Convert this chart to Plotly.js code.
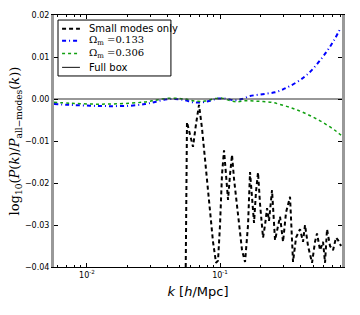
<!DOCTYPE html>
<html>
<head>
<meta charset="utf-8">
<script src="https://cdn.plot.ly/plotly-3.0.1.min.js"></script>
<style>html,body{margin:0;padding:0;background:#fff;}#chart{width:360px;height:315px;}</style>
</head>
<body>
<div id="chart"></div>
<script>
// Small modes only (black dashed)
var kSmall = [0.05455,0.05646,0.05950,0.06266,0.06600,0.06953,0.07323,0.07847,0.08409,0.08859,0.09331,0.09661,0.1000,0.1035,0.1072,0.1109,0.1149,0.1189,0.1231,0.1274,0.1319,0.1390,0.1464,0.1542,0.1624,0.1681,0.1740,0.1802,0.1865,0.1931,0.1999,0.2106,0.2180,0.2257,0.2336,0.2460,0.2592,0.2730,0.2826,0.2977,0.3135,0.3360,0.3539,0.3728,0.3995,0.4208,0.4356,0.4588,0.4917,0.5179,0.5362,0.5647,0.5949,0.6158,0.6375,0.6714,0.7072,0.7449,0.7712,0.8124];
var vSmall = [-0.060,-0.0055,-0.0085,-0.0114,-0.0060,-0.0014,-0.0070,-0.0170,-0.0280,-0.0340,-0.0390,-0.0385,-0.0300,-0.0180,-0.0122,-0.0190,-0.0240,-0.0180,-0.0133,-0.0190,-0.0230,-0.0300,-0.0360,-0.0388,-0.0300,-0.0174,-0.0240,-0.0295,-0.0220,-0.0175,-0.0250,-0.0330,-0.0300,-0.0260,-0.0290,-0.0217,-0.0336,-0.0300,-0.0280,-0.0340,-0.0270,-0.0233,-0.0388,-0.0330,-0.0310,-0.0340,-0.0300,-0.0350,-0.0390,-0.0340,-0.0320,-0.0360,-0.0340,-0.0390,-0.0310,-0.0350,-0.0360,-0.0330,-0.0336,-0.0350];

// Omega_m = 0.133 (blue dash-dot)
var kLow = [0.00565,0.00745,0.0105,0.0149,0.0211,0.0273,0.0325,0.0386,0.0459,0.0546,0.0627,0.0732,0.0841,0.0966,0.1090,0.1296,0.1464,0.1681,0.1931,0.2257,0.2592,0.2977,0.3360,0.3995,0.4510,0.5003,0.5647,0.6375,0.7196,0.8124];
var vLow = [-0.0012,-0.0014,-0.0016,-0.0017,-0.0016,-0.0012,-0.0007,-0.0001,0.0000,-0.0003,-0.0008,-0.0008,-0.0004,0.0001,0.0001,-0.0003,0.0000,0.0007,0.0010,0.0013,0.0016,0.0023,0.0031,0.0045,0.0058,0.0072,0.0092,0.0114,0.0140,0.0171];

// Omega_m = 0.306 (green dotted)
var kHigh = [0.00565,0.00745,0.0105,0.0149,0.0211,0.0273,0.0325,0.0386,0.0459,0.0546,0.0649,0.0771,0.0917,0.1035,0.1189,0.1342,0.1542,0.1833,0.2106,0.2460,0.2826,0.3360,0.3793,0.4356,0.5003,0.5647,0.6375,0.7196,0.8124];
var vHigh = [-0.0008,-0.0010,-0.0012,-0.0012,-0.0010,-0.0007,-0.0003,0.0001,0.0002,0.0000,-0.0005,-0.0005,0.0001,0.0002,-0.0004,-0.0007,-0.0004,-0.0005,-0.0006,-0.0008,-0.0013,-0.0020,-0.0026,-0.0034,-0.0043,-0.0052,-0.0062,-0.0073,-0.0086];

// Full box (reference)
var kFull = [0.0050,0.90];
var vFull = [0.0,0.0];

var yTickVals = [0.02,0.01,0.0,-0.01,-0.02,-0.03,-0.04];
var yTickText = ["0.02","0.01","0.00","\u22120.01","\u22120.02","\u22120.03","\u22120.04"];
var xTickVals = [0.01,0.1];
var xTickText = ["10<sup>-2</sup>","10<sup>-1</sup>"];
var xMinorVals = [0.006,0.007,0.008,0.009,0.02,0.03,0.04,0.05,0.06,0.07,0.08,0.09,0.2,0.3,0.4,0.5,0.6,0.7,0.8];

var seriesNames = ['Small modes only','\u03A9<sub>m</sub> =0.133','\u03A9<sub>m</sub> =0.306','Full box'];

var serif = "'DejaVu Serif', 'Liberation Serif', serif";
var sans = "'DejaVu Sans', 'Liberation Sans', sans-serif";

var lineStyles = [
  {color:'#000000', width:2, dash:'4px,3px'},
  {color:'#0000ff', width:2, dash:'4px,3px,1px,3px'},
  {color:'#10a010', width:1.5, dash:'dot'},
  {color:'#333333', width:1.2}
];
var nameFonts = [sans, serif, serif, sans];

var traces = [
  {x:kSmall, y:vSmall, mode:'lines', name:seriesNames[0], line:lineStyles[0]},
  {x:kLow, y:vLow, mode:'lines', name:seriesNames[1], line:Object.assign({shape:'spline'}, lineStyles[1])},
  {x:kHigh, y:vHigh, mode:'lines', name:seriesNames[2], line:Object.assign({shape:'spline'}, lineStyles[2])},
  {x:kFull, y:vFull, mode:'lines', name:seriesNames[3], line:lineStyles[3]}
];

// hand-built compact legend (matplotlib style)
var shapes = [{type:'rect', xref:'paper', yref:'paper', x0:0.0139, x1:0.406, y0:0.758, y1:0.980,
               fillcolor:'#ffffff', line:{color:'#000000', width:1}, layer:'above'}];
var annotations = [];
var rowY = [0.945, 0.898, 0.847, 0.792];
for (var i = 0; i < seriesNames.length; i++) {
  shapes.push({type:'line', xref:'paper', yref:'paper', x0:0.028, x1:0.090, y0:rowY[i], y1:rowY[i],
               line:{color:lineStyles[i].color, width:lineStyles[i].width, dash:lineStyles[i].dash || 'solid'}, layer:'above'});
  annotations.push({xref:'paper', yref:'paper', x:0.115, y:rowY[i], xanchor:'left', yanchor:'middle',
                    text:seriesNames[i], showarrow:false, font:{family:nameFonts[i], size:10, color:'#000'}});
}

var layout = {
  width:360, height:315,
  margin:{l:54, r:18, t:15, b:48},
  paper_bgcolor:'#ffffff', plot_bgcolor:'#ffffff',
  showlegend:false,
  shapes:shapes, annotations:annotations,
  xaxis:{type:'log', range:[-2.248,-0.083],
         tickvals:xTickVals, ticktext:xTickText, ticks:'inside', ticklen:4, tickcolor:'#000',
         minor:{tickvals:xMinorVals, ticks:'inside', ticklen:2, tickcolor:'#000'},
         showgrid:false, zeroline:false, showline:true, linecolor:'#000', linewidth:1, mirror:'allticks',
         tickfont:{family:sans, size:8, color:'#000'},
         title:{text:'<i>k</i> [<i>h</i>/Mpc]', font:{family:sans, size:13, color:'#000'}, standoff:8}},
  yaxis:{range:[-0.04,0.02], tickvals:yTickVals, ticktext:yTickText,
         ticks:'inside', ticklen:4, tickcolor:'#000',
         showgrid:false, zeroline:false, showline:true, linecolor:'#999999', linewidth:3, mirror:'allticks',
         tickfont:{family:sans, size:8, color:'#000'},
         title:{text:'log<sub>10</sub>(<i>P</i>(<i>k</i>)/<i>P</i><sub>all\u2212modes</sub>(<i>k</i>))',
                font:{family:serif, size:13, color:'#000'}, standoff:3}}
};

Plotly.newPlot('chart', traces, layout, {displayModeBar:false, staticPlot:true});
</script>
</body>
</html>
